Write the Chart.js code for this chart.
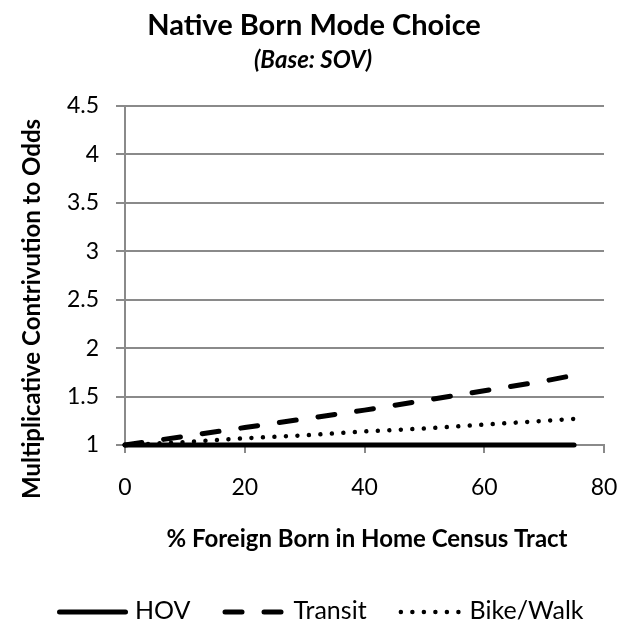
<!DOCTYPE html>
<html><head><meta charset="utf-8">
<script src="https://cdn.jsdelivr.net/npm/chart.js@4/dist/chart.umd.min.js"></script>
<style>html,body{margin:0;padding:0;background:#fff}#wrap{width:628px;height:623px}</style>
</head><body><div id="wrap"><canvas id="c" width="628" height="623"></canvas></div>
<script>
const titleText = 'Native Born Mode Choice';
const subtitleText = '(Base: SOV)';
const xAxisTitle = '% Foreign Born in Home Census Tract';
const yAxisTitle = 'Multiplicative Contrivution to Odds';
const seriesNames = ['HOV', 'Transit', 'Bike/Walk'];
const foreignBorn = [0, 10, 20, 30, 40, 50, 60, 70, 75];
const hov      = [1.00, 1.00, 1.00, 1.00, 1.00, 1.00, 1.00, 1.00, 1.00];
const transit  = [1.00, 1.09, 1.18, 1.27, 1.36, 1.46, 1.56, 1.66, 1.72];
const bikeWalk = [1.00, 1.03, 1.07, 1.10, 1.14, 1.17, 1.21, 1.25, 1.27];
const xTicks = [0, 20, 40, 60, 80];
const yTicks = [1, 1.5, 2, 2.5, 3, 3.5, 4, 4.5];

const FONT = 'Lato, "Open Sans", sans-serif';
const GRID = '#8a8a8a';
const toPts = ys => foreignBorn.map((x, i) => ({x: x, y: ys[i]}));

const styles = [
  {borderWidth: 5, borderDash: [], borderCapStyle: 'round'},
  {borderWidth: 5, borderDash: [17, 22], borderCapStyle: 'round'},
  {borderWidth: 4.5, borderDash: [0.01, 11.5], borderCapStyle: 'round'}
];
const values = [hov, transit, bikeWalk];

const datasets = seriesNames.map((name, i) => Object.assign({
  label: name,
  data: toPts(values[i]),
  borderColor: '#000',
  backgroundColor: '#000',
  pointRadius: 0,
  tension: 0,
  fill: false,
  clip: false
}, styles[i]));

const decor = {
  id: 'decor',
  afterDraw(chart) {
    const ctx = chart.ctx;
    ctx.save();
    ctx.fillStyle = '#000';
    ctx.textAlign = 'center';
    ctx.textBaseline = 'middle';
    ctx.font = 'bold 29px ' + FONT;
    ctx.fillText(titleText, 314, 26);
    ctx.font = 'italic bold 24px ' + FONT;
    ctx.fillText(subtitleText, 313, 60);
    ctx.font = 'bold 24px ' + FONT;
    ctx.fillText(xAxisTitle, 367, 539);
    ctx.save();
    ctx.translate(32, 309);
    ctx.rotate(-Math.PI / 2);
    ctx.fillText(yAxisTitle, 0, 0);
    ctx.restore();

    // legend
    ctx.font = '25px ' + FONT;
    ctx.textAlign = 'left';
    const ly = 612;
    let x = 57;
    const symLens = [71, 64, 64];
    chart.data.datasets.forEach((ds, i) => {
      ctx.save();
      ctx.strokeStyle = ds.borderColor;
      ctx.lineWidth = ds.borderWidth;
      ctx.lineCap = ds.borderCapStyle;
      ctx.setLineDash(ds.borderDash);
      ctx.beginPath();
      const off = ds.borderCapStyle === 'round' ? ds.borderWidth / 2 : 0;
      ctx.moveTo(x + off, ly);
      ctx.lineTo(x + symLens[i] - off, ly);
      ctx.stroke();
      ctx.restore();
      x += symLens[i] + 7;
      ctx.fillText(ds.label, x, ly - 1);
      x += ctx.measureText(ds.label).width + 32;
    });
    ctx.restore();
  }
};

new Chart(document.getElementById('c'), {
  type: 'line',
  data: {datasets: datasets},
  options: {
    responsive: false,
    animation: false,
    layout: {padding: {top: 106, left: 0, right: 24, bottom: 118}},
    plugins: {legend: {display: false}, title: {display: false}, tooltip: {enabled: false}},
    scales: {
      x: {
        type: 'linear', min: 0, max: 80,
        afterBuildTicks: s => { s.ticks = xTicks.map(v => ({value: v})); },
        afterFit: s => { s.height = 60; s.paddingLeft = 0; s.paddingRight = 0; },
        grid: {display: true, drawOnChartArea: false, drawTicks: true, tickLength: 8, color: GRID, lineWidth: 2},
        border: {display: true, color: GRID, width: 2},
        ticks: {color: '#000', font: {family: FONT, size: 23}, padding: 21, maxRotation: 0}
      },
      y: {
        type: 'linear', min: 1, max: 4.5,
        afterBuildTicks: s => { s.ticks = yTicks.map(v => ({value: v})); },
        afterFit: s => { s.width = 125; s.paddingTop = 0; s.paddingBottom = 0; },
        grid: {display: true, drawOnChartArea: true, drawTicks: true, tickLength: 9, color: GRID, lineWidth: 2},
        border: {display: true, color: GRID, width: 2},
        ticks: {color: '#000', font: {family: FONT, size: 23}, padding: 17, callback: v => String(v)}
      }
    }
  },
  plugins: [decor]
});
</script>
</body></html>
